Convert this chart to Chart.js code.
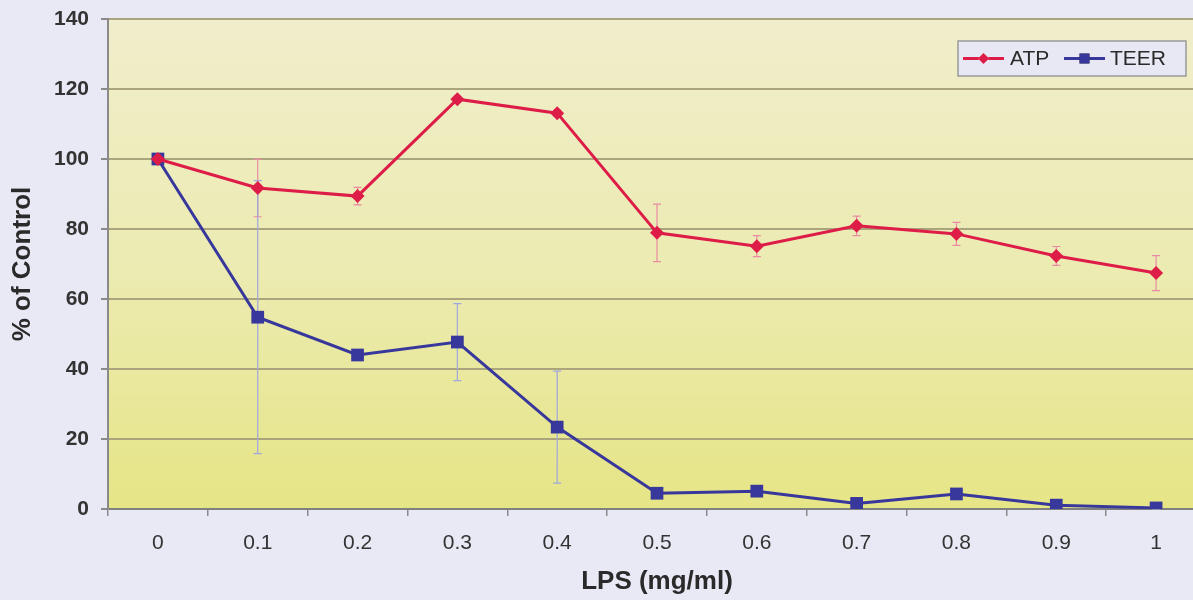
<!DOCTYPE html>
<html>
<head>
<meta charset="utf-8">
<title>ATP and TEER vs LPS</title>
<script src="https://cdn.jsdelivr.net/npm/chart.js@4.4.1/dist/chart.umd.min.js"></script>
<style>
  html, body { margin: 0; padding: 0; overflow: hidden; background: #e9e9f5; }
  #wrap { width: 1215px; height: 600px; }
</style>
</head>
<body>
<div id="wrap"><canvas id="c" width="1215" height="600"></canvas></div>
<script>
// LPS concentration (mg/ml)
const lpsLabels = ['0', '0.1', '0.2', '0.3', '0.4', '0.5', '0.6', '0.7', '0.8', '0.9', '1'];
// ATP, % of control, with error (+/-)
const atpValues = [100, 91.7, 89.4, 117.1, 113.1, 78.9, 75.1, 80.9, 78.6, 72.3, 67.4];
const atpErrors = [0, 8.2, 2.5, 0.8, 0.8, 8.2, 3.0, 2.8, 3.3, 2.7, 5.0];
// TEER, % of control, with error (+/-)
const teerValues = [100, 54.8, 44.0, 47.7, 23.4, 4.5, 5.1, 1.6, 4.3, 1.1, 0.3];
const teerErrors = [0, 39.0, 1.0, 11.0, 16.0, 0.8, 1.0, 0.5, 0.8, 0.5, 0.3];
// y-axis ticks
const yTicks = [0, 20, 40, 60, 80, 100, 120, 140];

const FONT = '"Liberation Sans", Arial, sans-serif';

// Gradient fill behind the plot area
const plotBackground = {
  id: 'plotBackground',
  beforeDraw(chart) {
    const { ctx, chartArea: a } = chart;
    const g = ctx.createLinearGradient(0, a.top, 0, a.bottom);
    g.addColorStop(0, '#f0eecb');
    g.addColorStop(0.5, '#ecebb2');
    g.addColorStop(1, '#e6e586');
    ctx.save();
    ctx.fillStyle = g;
    ctx.fillRect(a.left, a.top, a.right - a.left, a.bottom - a.top);
    ctx.restore();
  }
};

// Vertical error bars with caps, drawn from each dataset's error array
const errorBars = {
  id: 'errorBars',
  beforeDatasetsDraw(chart) {
    const { ctx } = chart;
    const y = chart.scales.y;
    const cap = 4;
    ctx.save();
    chart.data.datasets.forEach((ds, i) => {
      const meta = chart.getDatasetMeta(i);
      ctx.strokeStyle = ds.errorColor;
      ctx.lineWidth = 1.2;
      meta.data.forEach((pt, j) => {
        const e = ds.errors[j];
        if (!e) return;
        const v = ds.data[j];
        const x = pt.x;
        const yHi = y.getPixelForValue(v + e);
        const yLo = y.getPixelForValue(v - e);
        ctx.beginPath();
        ctx.moveTo(x, yHi); ctx.lineTo(x, yLo);
        ctx.moveTo(x - cap, yHi); ctx.lineTo(x + cap, yHi);
        ctx.moveTo(x - cap, yLo); ctx.lineTo(x + cap, yLo);
        ctx.stroke();
      });
    });
    ctx.restore();
  }
};

// Boxed legend in the upper right of the plot area
const boxedLegend = {
  id: 'boxedLegend',
  afterDraw(chart) {
    const { ctx } = chart;
    const left = 958, top = 41, w = 228, h = 35;
    ctx.save();
    ctx.fillStyle = '#e8e8f5';
    ctx.fillRect(left, top, w, h);
    ctx.strokeStyle = '#9a9a9a';
    ctx.lineWidth = 1.5;
    ctx.strokeRect(left, top, w, h);
    const cy = top + h / 2;
    const items = [
      { ds: chart.data.datasets[0], x0: 963, x1: 1004, tx: 1010 },
      { ds: chart.data.datasets[1], x0: 1064, x1: 1105, tx: 1110 }
    ];
    ctx.font = '21px ' + FONT;
    ctx.textBaseline = 'middle';
    ctx.textAlign = 'left';
    items.forEach(it => {
      ctx.strokeStyle = it.ds.borderColor;
      ctx.lineWidth = 3;
      ctx.beginPath();
      ctx.moveTo(it.x0, cy); ctx.lineTo(it.x1, cy);
      ctx.stroke();
      Chart.helpers.drawPoint(ctx, {
        pointStyle: it.ds.pointStyle,
        radius: it.ds.pointStyle === 'rect' ? 7 : 5.5,
        borderWidth: 0
      }, (it.x0 + it.x1) / 2, cy);
      ctx.fillStyle = it.ds.pointBackgroundColor;
      ctx.fill();
      ctx.fillStyle = '#2a2a2a';
      ctx.fillText(it.ds.label, it.tx, cy + 1);
    });
    ctx.restore();
  }
};

new Chart(document.getElementById('c'), {
  type: 'line',
  data: {
    labels: lpsLabels,
    datasets: [
      {
        label: 'ATP',
        data: atpValues,
        errors: atpErrors,
        errorColor: '#ea8aa4',
        borderColor: '#de1c48',
        backgroundColor: '#de1c48',
        pointBackgroundColor: '#de1c48',
        pointBorderColor: '#de1c48',
        pointStyle: 'rectRot',
        pointRadius: 7,
        pointBorderWidth: 0,
        borderWidth: 3,
        tension: 0
      },
      {
        label: 'TEER',
        data: teerValues,
        errors: teerErrors,
        errorColor: '#9ea6e0',
        borderColor: '#38389c',
        backgroundColor: '#38389c',
        pointBackgroundColor: '#38389c',
        pointBorderColor: '#38389c',
        pointStyle: 'rect',
        pointRadius: 9,
        pointBorderWidth: 0,
        borderWidth: 3,
        tension: 0
      }
    ]
  },
  options: {
    responsive: false,
    animation: false,
    layout: { padding: { top: 19, right: 0, bottom: 0, left: 0 } },
    plugins: {
      legend: { display: false },
      tooltip: { enabled: false }
    },
    scales: {
      x: {
        type: 'category',
        offset: true,
        grid: {
          offset: true,
          drawOnChartArea: false,
          drawTicks: true,
          tickLength: 7,
          color: '#8a8a8a',
          lineWidth: 1.5
        },
        border: { display: true, color: '#808080', width: 2 },
        ticks: {
          color: '#333',
          font: { family: FONT, size: 21 },
          padding: 15,
          maxRotation: 0
        },
        title: {
          display: true,
          text: 'LPS (mg/ml)',
          color: '#2a2a2a',
          font: { family: FONT, size: 26, weight: 'bold' },
          padding: { top: 0, bottom: 3 }
        },
        afterFit(scale) {
          scale.height = 91;
          scale.paddingLeft = 0;
          scale.paddingRight = 0;
        }
      },
      y: {
        min: 0,
        max: 140,
        afterBuildTicks(scale) { scale.ticks = yTicks.map(v => ({ value: v })); },
        grid: {
          color: '#aaa57c',
          lineWidth: 2,
          drawTicks: true,
          tickLength: 7,
          tickColor: '#8a8a8a'
        },
        border: { display: true, color: '#8a8a8a', width: 2 },
        ticks: {
          color: '#333',
          font: { family: FONT, size: 21, weight: 'bold' },
          padding: 12
        },
        title: {
          display: true,
          text: '% of Control',
          color: '#2a2a2a',
          font: { family: FONT, size: 26, weight: 'bold' },
          padding: { top: 7, bottom: 0 }
        },
        afterFit(scale) {
          scale.width = 108;
          scale.paddingTop = 0;
          scale.paddingBottom = 0;
        }
      }
    }
  },
  plugins: [plotBackground, errorBars, boxedLegend]
});
</script>
</body>
</html>
